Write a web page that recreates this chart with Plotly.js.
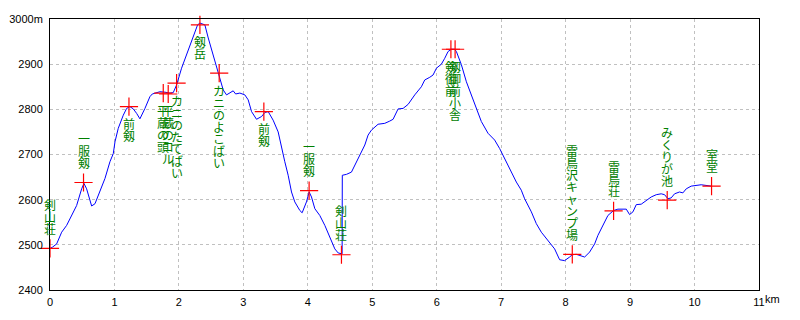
<!DOCTYPE html>
<html><head><meta charset="utf-8">
<script src="https://cdn.plot.ly/plotly-3.0.1.min.js"></script>
<style>html,body{margin:0;padding:0;background:#fff}</style>
</head><body><div id="chart" style="width:800px;height:320px"></div>
<script>
const profileKm = [
 0, 0.04, 0.103, 0.181, 0.258, 0.336, 0.413, 0.491, 0.527, 0.568,
 0.646, 0.698, 0.775, 0.853, 0.93, 0.982, 1.008, 1.059, 1.137, 1.189,
 1.24, 1.292, 1.344, 1.395, 1.473, 1.55, 1.587, 1.654, 1.705, 1.783,
 1.86, 1.912, 1.964, 2.041, 2.119, 2.196, 2.248, 2.29, 2.326, 2.403,
 2.455, 2.533, 2.584, 2.636, 2.687, 2.739, 2.791, 2.842, 2.88, 2.946,
 3.023, 3.075, 3.127, 3.204, 3.282, 3.333, 3.385, 3.462, 3.54, 3.592,
 3.643, 3.695, 3.747, 3.798, 3.876, 3.912, 3.979, 4.021, 4.057, 4.109,
 4.186, 4.264, 4.341, 4.419, 4.471, 4.522, 4.532, 4.535, 4.599, 4.677,
 4.729, 4.806, 4.884, 4.935, 4.987, 5.09, 5.194, 5.271, 5.323, 5.401,
 5.478, 5.556, 5.659, 5.762, 5.814, 5.892, 5.943, 5.995, 6.072, 6.124,
 6.176, 6.227, 6.279, 6.305, 6.382, 6.46, 6.537, 6.615, 6.692, 6.796,
 6.899, 6.977, 7.054, 7.157, 7.235, 7.312, 7.364, 7.468, 7.545, 7.623,
 7.726, 7.829, 7.907, 7.984, 8.062, 8.1, 8.165, 8.243, 8.295, 8.372,
 8.45, 8.501, 8.579, 8.656, 8.744, 8.811, 8.941, 8.992, 9.044, 9.096,
 9.173, 9.251, 9.328, 9.406, 9.483, 9.535, 9.587, 9.638, 9.69, 9.767,
 9.819, 9.871, 9.948, 10.103, 10.207, 10.258
];
const profileElev = [
 2492, 2495, 2502, 2528, 2543, 2565, 2587, 2624, 2636, 2624,
 2586, 2591, 2617, 2647, 2684, 2702, 2728, 2758, 2787, 2802,
 2806, 2801, 2791, 2779, 2802, 2828, 2834, 2836, 2839, 2838,
 2836, 2837, 2854, 2891, 2921, 2950, 2973, 2987, 2991, 2987,
 2958, 2921, 2891, 2869, 2843, 2832, 2836, 2841, 2834, 2836,
 2832, 2821, 2795, 2778, 2784, 2793, 2795, 2776, 2750, 2713,
 2684, 2654, 2617, 2595, 2576, 2571, 2595, 2617, 2606, 2580,
 2565, 2543, 2517, 2491, 2482, 2480, 2480, 2654, 2656, 2661,
 2676, 2699, 2721, 2743, 2754, 2767, 2769, 2774, 2778, 2801,
 2802, 2811, 2832, 2850, 2865, 2871, 2876, 2891, 2900, 2913,
 2928, 2933, 2933, 2928, 2899, 2861, 2832, 2802, 2773, 2747,
 2732, 2713, 2691, 2665, 2639, 2621, 2602, 2573, 2547, 2528,
 2510, 2491, 2467, 2465, 2473, 2478, 2479, 2475, 2473, 2484,
 2502, 2521, 2543, 2565, 2576, 2579, 2579, 2567, 2573, 2589,
 2590, 2599, 2606, 2611, 2613, 2611, 2602, 2604, 2613, 2617,
 2615, 2624, 2630, 2633, 2630, 2630
];

const pointNames = ['剣山荘','一服剱','前剱','平蔵の頭','平蔵のコル','カニのたてばい','剱岳','カニのよこばい','前剱','一服剱','剣山荘','剱御前','剱御前小舎','雷鳥沢キャンプ場','雷鳥荘','みくりが池','室堂'];
const pointKm   = [0, 0.52, 1.225, 1.757, 1.834, 1.964, 2.326, 2.625, 3.318, 4.02, 4.522, 6.22, 6.285, 8.103, 8.744, 9.576, 10.264];
const pointElev = [2492, 2638, 2806, 2836, 2834, 2858, 2987, 2880, 2795, 2620, 2478, 2933, 2933, 2479, 2575, 2599, 2630];
const labelSide = ['above','above','below','below','below','below','below','below','below','above','above','below','below','above','above','above','above'];

const yTickVals = [2400, 2500, 2600, 2700, 2800, 2900, 3000];
const yTickText = ['2400', '2500', '2600', '2700', '2800', '2900', '3000m'];
const xTickVals = [0, 1, 2, 3, 4, 5, 6, 7, 8, 9, 10, 11];
const xTickText = ['0', '1', '2', '3', '4', '5', '6', '7', '8', '9', '10', '11'];
const xUnit = 'km';

// vertical (tategaki) labels: one character per line, 12px glyphs on a 12px pitch
const PITCH = 12;
const axisFont = {family: '"Liberation Sans", Arial, sans-serif', size: 11, color: '#000'};
const annotations = pointNames.map((name, i) => {
  const chars = Array.from(name);
  const n = chars.length;
  const text = chars.map(c => '<span style="font-size:12px">' + c + '</span>').join('<br>');
  const centerShift = labelSide[i] === 'above'
    ? 20 + (n - 1) * PITCH / 2
    : -(17 + (n - 1) * PITCH / 2);
  return {
    x: pointKm[i], y: pointElev[i], xref: 'x', yref: 'y',
    text: text, showarrow: false, xanchor: 'center', yanchor: 'middle',
    align: 'center', yshift: centerShift, borderpad: 0,
    font: {family: '"Noto Sans CJK JP", sans-serif', size: PITCH / 1.3, color: '#008000'}
  };
});
annotations.push({
  xref: 'paper', yref: 'paper', x: 1, y: 0, xanchor: 'left', yanchor: 'middle',
  xshift: 5, yshift: -9, text: xUnit, showarrow: false, borderpad: 0, font: axisFont
});

const traces = [
  {x: profileKm, y: profileElev, type: 'scatter', mode: 'lines',
   line: {color: '#0000ff', width: 1}, hoverinfo: 'skip'},
  {x: pointKm, y: pointElev, type: 'scatter', mode: 'markers', cliponaxis: false,
   marker: {symbol: 'cross-thin', size: 13, line: {color: '#ff0000', width: 1.2}, color: '#ff0000'},
   hoverinfo: 'skip'}
];

const layout = {
  width: 800, height: 320,
  margin: {l: 50, r: 41, t: 19, b: 30},
  paper_bgcolor: '#fff', plot_bgcolor: '#fff',
  showlegend: false,
  xaxis: {range: [0, 11], tickvals: xTickVals, ticktext: xTickText, tickfont: axisFont,
          showgrid: true, gridcolor: '#c0c0c0', griddash: '3px,3px', gridwidth: 1,
          zeroline: false, showline: true, linecolor: '#000', linewidth: 1, mirror: true,
          ticks: '', ticklabelstandoff: 2, fixedrange: true},
  yaxis: {range: [2400, 3000], tickvals: yTickVals, ticktext: yTickText, tickfont: axisFont,
          showgrid: true, gridcolor: '#c0c0c0', griddash: '3px,3px', gridwidth: 1,
          zeroline: false, showline: true, linecolor: '#000', linewidth: 1, mirror: true,
          ticks: '', ticklabelstandoff: 4, fixedrange: true},
  annotations: annotations
};

Plotly.newPlot('chart', traces, layout, {staticPlot: true, displayModeBar: false});
</script>
</body></html>
